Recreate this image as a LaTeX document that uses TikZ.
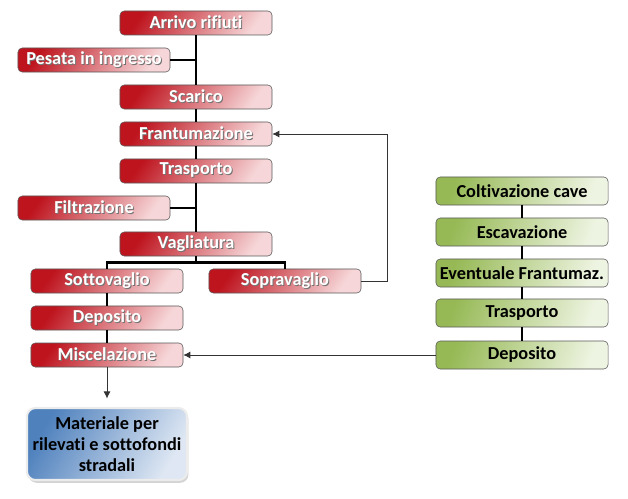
\documentclass[tikz,border=0pt]{standalone}
\usepackage{fontspec}
\setmainfont[Ligatures=NoCommon]{Carlito}
\usetikzlibrary{arrows.meta, shadows}

\definecolor{redDark}{RGB}{190,20,30}
\definecolor{redMid}{RGB}{222,130,135}
\definecolor{redLight}{RGB}{246,214,216}
\definecolor{greenDark}{RGB}{150,185,85}
\definecolor{greenLight}{RGB}{238,244,226}
\definecolor{blueDark}{RGB}{79,129,189}
\definecolor{blueLight}{RGB}{222,231,243}

% white label with a soft dark shadow
\newcommand\shtxt[1]{\leavevmode\rlap{\kern0.7pt\raisebox{-0.7pt}{\textcolor{black!55}{#1}}}#1}

\begin{document}
\begin{tikzpicture}[
  x=0.025cm, y=-0.025cm,
  font=\bfseries\fontsize{13}{15}\selectfont,
  redbox/.style={
    draw=black!65, rounded corners=3pt, text=white,
    top color=redDark, middle color=redMid, bottom color=redLight,
    shading angle=55,
    minimum width=3.8cm, minimum height=0.6cm, inner sep=1pt
  },
  greenbox/.style={
    draw=black!65, rounded corners=3pt, text=black,
    top color=greenDark, bottom color=greenLight, shading angle=70,
    minimum width=4.3cm, minimum height=0.7cm, inner sep=1pt
  },
  outbox/.style={
    draw=white!85!gray, line width=1.5pt, rounded corners=6pt,
    top color=blueDark, bottom color=blueLight, shading angle=60,
    drop shadow={shadow xshift=1pt, shadow yshift=-2pt, opacity=0.35},
    minimum width=4cm, minimum height=1.8cm, align=center, inner sep=2pt
  },
  trunk/.style={line width=1.8pt, draw=black},
  feed/.style={-{Latex[length=5pt,width=5pt]}, line width=0.6pt, draw=black!80}
]
\useasboundingbox (0,0) rectangle (628,498);

% rifiuti
\node[redbox] (arrivo)  at (196,23)  {\shtxt{Arrivo rifiuti}};
\node[redbox] (pesata)  at (94,60)   {\shtxt{Pesata in ingresso}};
\node[redbox] (scarico) at (196,97)  {\shtxt{Scarico}};
\node[redbox] (frant)   at (196,134) {\shtxt{Frantumazione}};
\node[redbox] (trasp)   at (196,171) {\shtxt{Trasporto}};
\node[redbox] (filtra)  at (94,208)  {\shtxt{Filtrazione}};
\node[redbox] (vaglia)  at (196,244) {\shtxt{Vagliatura}};
\node[redbox] (sotto)   at (107,281) {\shtxt{Sottovaglio}};
\node[redbox] (sopra)   at (285,281) {\shtxt{Sopravaglio}};
\node[redbox] (depo)    at (107,318) {\shtxt{Deposito}};
\node[redbox] (misc)    at (107,355) {\shtxt{Miscelazione}};
\node[outbox] (mat)     at (107,444) {Materiale per\\rilevati e sottofondi\\stradali};

% cave
\node[greenbox] (colt)   at (522,191) {Coltivazione cave};
\node[greenbox] (escav)  at (522,232) {Escavazione};
\node[greenbox] (event)  at (522,273) {Eventuale Frantumaz.};
\node[greenbox] (gtrasp) at (522,313) {Trasporto};
\node[greenbox] (gdepo)  at (522,355) {Deposito};

\draw[trunk] (arrivo) -- (scarico);
\draw[trunk] (scarico) -- (frant);
\draw[trunk] (frant) -- (trasp);
\draw[trunk] (trasp) -- (vaglia);
\draw[trunk] (pesata.east) -- (pesata.east -| arrivo.south);
\draw[trunk] (filtra.east) -- (filtra.east -| trasp.south);
\draw[trunk] (vaglia.south) -- ++(0,6) -| (sotto.north);
\draw[trunk] (vaglia.south) ++(0,6) -| (sopra.north);
\draw[trunk] (sotto) -- (depo);
\draw[trunk] (depo) -- (misc);
\draw[trunk] (colt) -- (escav);
\draw[trunk] (escav) -- (event);
\draw[trunk] (event) -- (gtrasp);
\draw[trunk] (gtrasp) -- (gdepo);

\draw[feed] (sopra.east) -- ++(26,0) |- (frant.east);
\draw[feed] (gdepo.west) -- (misc.east);
\draw[feed, shorten >=6pt] (misc.south) -- (mat.north);
\end{tikzpicture}
\end{document}
